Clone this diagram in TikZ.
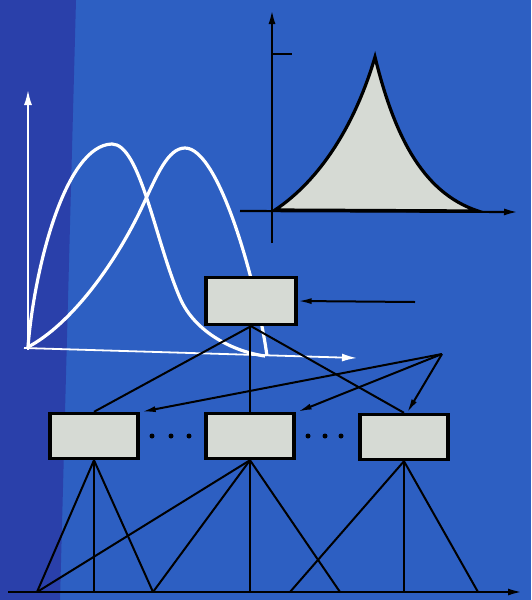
\documentclass[tikz,border=0pt]{standalone}
\usetikzlibrary{arrows.meta,positioning}
\definecolor{bgBlue}{HTML}{2D5FC2}
\definecolor{bgDark}{HTML}{2A40AA}
\definecolor{pGray} {HTML}{D6DAD4}
\begin{document}
\begin{tikzpicture}[
  x=1pt, y=-1pt,
  box/.style={draw=black, fill=pGray, line width=3.4pt, minimum width=88pt,
              minimum height=45pt, inner sep=0pt},
  wcurve/.style={draw=white, line width=3.2pt, line join=round},
  wax/.style={draw=white, line width=1.8pt, -{Latex[length=15pt, width=8pt]}},
  bax/.style={draw=black, line width=2.2pt, -{Latex[length=14pt, width=7pt]}},
  ln/.style={draw=black, line width=2pt},
  ar/.style={draw=black, line width=2pt, -{Latex[length=14pt, width=6pt]}},
  dot/.style={circle, fill=black, inner sep=0pt, minimum size=5pt},
]
\useasboundingbox (0,0) rectangle (531,600);

% ---------------------------------------------------------------- fond
\fill[bgBlue] (0,0) rectangle (531,600);
\fill[bgDark] (0,0) -- (76,0) -- (60,600) -- (0,600) -- cycle;

% ---------------------------------------------------------------- deux courbes
\coordinate (o) at (28,347);
\draw[wax] (28,350) -- (28,90);
\draw[wax] (24,348) -- (357,358);
\draw[wcurve] (o) .. controls (34,270) and (65,145) .. (112,144)
  .. controls (140,144) and (155,240) .. (180,298)
  .. controls (195,333) and (235,352) .. (265,356);
\draw[wcurve] (o) .. controls (70,325) and (115,265) .. (143,205)
  .. controls (157,175) and (168,148) .. (185,148)
  .. controls (220,148) and (258,290) .. (267,356);

% ---------------------------------------------------------------- pic
\coordinate (p0) at (275,210);
\coordinate (pk) at (375,57);
\coordinate (p1) at (478,211);
\filldraw[fill=pGray, draw=black, line width=3.2pt, line join=miter]
  (p0) .. controls (320,180) and (355,125) .. (pk)
       .. controls (393,130) and (420,192) .. (p1) -- cycle;
\draw[bax] (272,243) -- (272,10);
\draw[ln]  (272,54) -- (292,54);
\draw[bax] (240,211) -- (518,212);

% ---------------------------------------------------------------- blocs
\node[box, minimum width=90pt, minimum height=47pt] at (251,301) (top) {};
\node[box] at (94,436)  (bl) {};
\node[box] at (250,436) (bm) {};
\node[box] at (404,437) (br) {};

\foreach \x in {152,171,189,308,325,341}
  \node[dot] at (\x,436) {};

% ---------------------------------------------------------------- liaisons
\coordinate (in) at (415,302);
\coordinate (src) at (442,354);
\draw[ar] (in) -- (top.east);
\draw[ln] (top.south) -- (bl.north);
\draw[ln] ([xshift=-1pt]top.south) -- (bm.north);
\draw[ln] (top.south) -- (br.north);
\draw[ar] (src) -- ([xshift=2pt]bl.north east);
\draw[ar] (src) -- ([xshift=2pt]bm.north east);
\draw[ar] (src) -- ([xshift=3pt]br.north);

% ---------------------------------------------------------------- base
\foreach \n/\x in {1/37,2/94,3/153,4/250,5/290,6/340,7/404,8/478}
  \coordinate (f\n) at (\x,592);
\draw[bax] (8,592) -- (522,592);
\foreach \n in {1,2,3}   \draw[ln] (bl.south) -- (f\n);
\foreach \n in {1,3,4,6} \draw[ln] (bm.south) -- (f\n);
\foreach \n in {5,7,8}   \draw[ln] (br.south) -- (f\n);

\end{tikzpicture}
\end{document}
